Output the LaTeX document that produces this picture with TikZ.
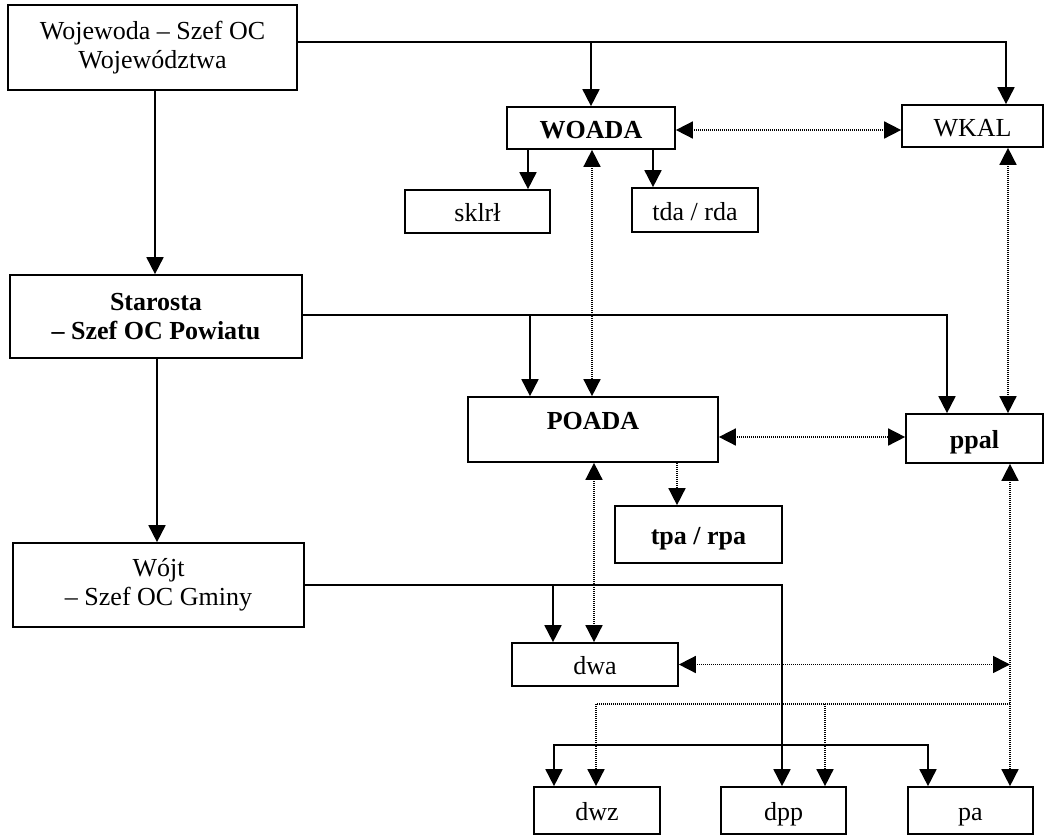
\documentclass[tikz,border=0pt]{standalone}
\usepackage{fontspec}
\setmainfont{Liberation Serif}
\usetikzlibrary{arrows.meta}
\begin{document}
\begin{tikzpicture}[x=1pt,y=-1pt,
  >={Triangle[length=17pt,width=17pt]},
  box/.style={draw, line width=1.7pt, inner sep=0pt, font=\fontsize{26}{29}\selectfont},
  bbox/.style={box, font=\fontsize{26}{29}\selectfont\bfseries},
  one/.style={text height=20pt, text depth=0pt},
  arr/.style={line width=1.8pt, ->},
  arrb/.style={line width=1.8pt, <->},
  dot/.style={line width=1.6pt, dash pattern=on 1pt off 1pt, ->},
  dotb/.style={line width=1.6pt, dash pattern=on 1pt off 1pt, <->}]
\useasboundingbox (0,0) rectangle (1047,836);

% nodes
\node[box, align=center, minimum width=289pt, minimum height=85pt] (woj) at (152.5,47.5) {Wojewoda – Szef OC\\Województwa};
\node[bbox, one, minimum width=168pt, minimum height=42pt] (woada) at (591,128) {WOADA};
\node[box, one, minimum width=145pt, minimum height=43pt] (sklr) at (477.5,211.5) {sklrł};
\node[box, one, minimum width=126pt, minimum height=44pt] (tda) at (695,210) {tda / rda};
\node[box, one, minimum width=141pt, minimum height=42pt] (wkal) at (972.5,126) {WKAL};
\node[bbox, align=center, minimum width=292pt, minimum height=83pt] (star) at (156,316.5) {Starosta\\– Szef OC Powiatu};
\node[bbox, text height=17pt, text depth=17pt, minimum width=250pt, minimum height=65pt] (poada) at (593,429.5) {POADA};
\node[bbox, one, minimum width=137pt, minimum height=49pt] (ppal) at (974.5,438.5) {ppal};
\node[bbox, one, minimum width=167pt, minimum height=57pt] (tpa) at (698.5,534.5) {tpa / rpa};
\node[box, align=center, minimum width=291pt, minimum height=84pt] (wojt) at (158.5,585) {Wójt\\– Szef OC Gminy};
\node[box, one, minimum width=166pt, minimum height=43pt] (dwa) at (595,664.5) {dwa};
\node[box, one, minimum width=126pt, minimum height=47pt] (dwz) at (597,810.5) {dwz};
\node[box, one, minimum width=125pt, minimum height=47pt] (dpp) at (783.5,810.5) {dpp};
\node[box, one, minimum width=125pt, minimum height=47pt] (pa) at (970.5,810.5) {pa};

% helper coordinates
\coordinate (yw) at (0,42);
\coordinate (xw) at (1006,0);
\coordinate (xl1) at (155,0);
\coordinate (xl2) at (157,0);
\coordinate (xs) at (528,0);
\coordinate (xt) at (653,0);
\coordinate (ys) at (0,315);
\coordinate (xp) at (947,0);
\coordinate (xpo) at (530,0);
\coordinate (xdw) at (553,0);
\coordinate (xdz) at (554,0);
\coordinate (xd) at (782,0);
\coordinate (xpa) at (928,0);
\coordinate (yb) at (0,745);
\coordinate (yd1) at (0,130);
\coordinate (xv) at (592,0);
\coordinate (xr) at (1008,0);
\coordinate (yd2) at (0,437);
\coordinate (xtp) at (677,0);
\coordinate (xdv) at (594,0);
\coordinate (xr2) at (1010,0);
\coordinate (yd4) at (0,704);
\coordinate (xdz2) at (596,0);
\coordinate (xdp) at (825,0);

% solid connectors
\draw[arr] (woj.east |- yw) -| (xw |- wkal.north);
\draw[arr] (woada.north |- yw) -- (woada.north);
\draw[arr] (woj.south -| xl1) -- (star.north -| xl1);
\draw[arr] (woada.south -| xs) -- (sklr.north -| xs);
\draw[arr] (woada.south -| xt) -- (tda.north -| xt);
\draw[arr] (star.east |- ys) -| (xp |- ppal.north);
\draw[arr] (xpo |- ys) -- (xpo |- poada.north);
\draw[arr] (star.south -| xl2) -- (wojt.north -| xl2);
\draw[arr] (wojt.east) -| (xd |- dpp.north);
\draw[arr] (xdw |- wojt.east) -- (xdw |- dwa.north);
\draw[arrb] (xdz |- dwz.north) -- (xdz |- yb) -- (xpa |- yb) -- (xpa |- pa.north);

% dotted connectors
\draw[dotb] (woada.east |- yd1) -- (wkal.west |- yd1);
\draw[dotb] (woada.south -| xv) -- (poada.north -| xv);
\draw[dotb] (wkal.south -| xr) -- (ppal.north -| xr);
\draw[dotb] (poada.east |- yd2) -- (ppal.west |- yd2);
\draw[dot] (poada.south -| xtp) -- (tpa.north -| xtp);
\draw[dotb] (poada.south -| xdv) -- (dwa.north -| xdv);
\draw[dotb] (ppal.south -| xr2) -- (pa.north -| xr2);
\draw[dotb] (dwa.east) -- (dwa.east -| xr2);
\draw[dot] (xr2 |- yd4) -- (xdz2 |- yd4) -- (xdz2 |- dwz.north);
\draw[dot] (xdp |- yd4) -- (xdp |- dpp.north);
\end{tikzpicture}
\end{document}
